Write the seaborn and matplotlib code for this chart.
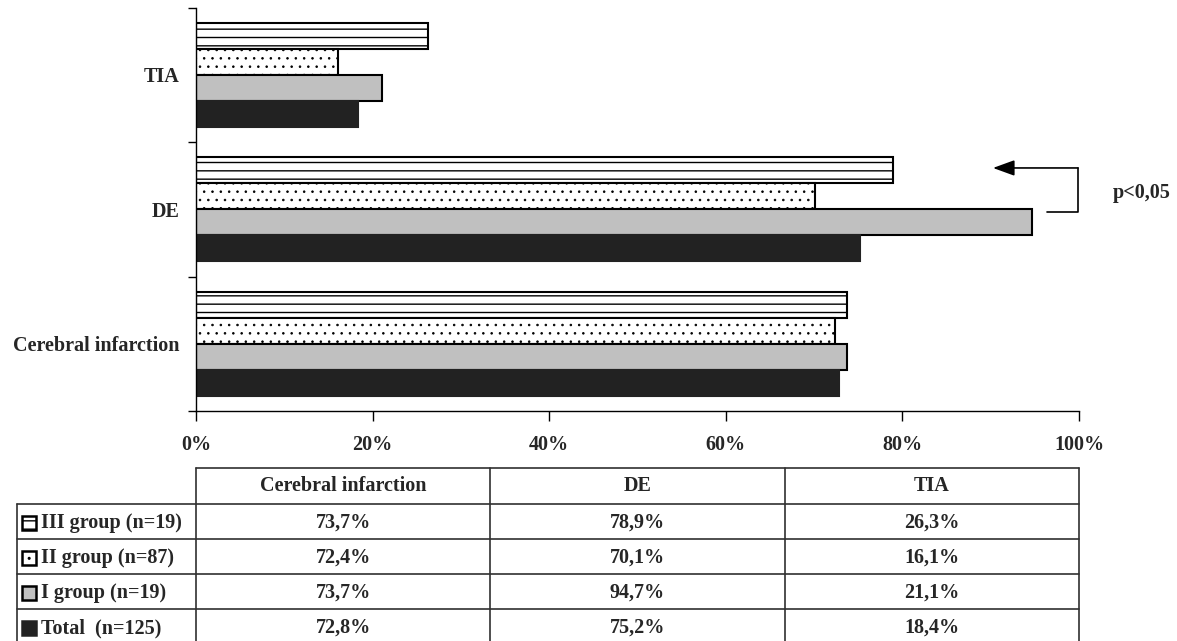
import numpy as np
import pandas as pd
import matplotlib
matplotlib.use("Agg")
import matplotlib.pyplot as plt
from matplotlib.patches import Rectangle
import seaborn as sns

# data (percent)
categories = ["Cerebral infarction", "DE", "TIA"]
groups = ["III group (n=19)", "II group (n=87)", "I group (n=19)", "Total  (n=125)"]
group_iii = [73.7, 78.9, 26.3]
group_ii = [72.4, 70.1, 16.1]
group_i = [73.7, 94.7, 21.1]
total = [72.8, 75.2, 18.4]
x_ticks = [0, 20, 40, 60, 80, 100]

sns.set_theme(style="white")
plt.rcParams["font.family"] = ["Liberation Serif", "DejaVu Serif"]
plt.rcParams["font.weight"] = "bold"
plt.rcParams["hatch.linewidth"] = 1.0

values = [group_iii, group_ii, group_i, total]
df = pd.DataFrame({
    "group": np.repeat(groups, len(categories)),
    "category": categories * len(groups),
    "pct": np.concatenate(values) / 100.0,
})

styles = {
    groups[0]: dict(facecolor="white", edgecolor="black", hatch="--"),
    groups[1]: dict(facecolor="white", edgecolor="black", hatch=".."),
    groups[2]: dict(facecolor="#c0c0c0", edgecolor="black", hatch=None),
    groups[3]: dict(facecolor="#222222", edgecolor="#222222", hatch=None),
}

W, H = 1177, 641
fig = plt.figure(figsize=(W / 100, H / 100), dpi=100)
ax = fig.add_axes([196 / W, 1 - 411 / H, (1079 - 196) / W, (411 - 7.5) / H])

sns.barplot(data=df, x="pct", y="category", hue="group", orient="h",
            order=categories[::-1], hue_order=groups, width=0.77,
            errorbar=None, legend=False, palette=["white", "white", "#c0c0c0", "#222222"],
            ax=ax)

for cont, g in zip(ax.containers, groups):
    for bar in cont:
        bar.set_facecolor(styles[g]["facecolor"])
        bar.set_edgecolor(styles[g]["edgecolor"])
        bar.set_hatch(styles[g]["hatch"])
        bar.set_linewidth(1.5)
        if g == groups[1] and hasattr(bar, "set_hatch_linewidth"):
            bar.set_hatch_linewidth(0.6)

ax.set_xlim(0, 1)
ax.set_ylim(2.5, -0.5)
ax.set_xticks(np.array(x_ticks) / 100)
ax.set_xticklabels([f"{t}%" for t in x_ticks], fontsize=14.5, fontweight="bold")
ax.set_yticks(range(3))
ax.set_yticklabels(categories[::-1], fontsize=14.5, fontweight="bold")
ax.set_yticks([-0.5, 0.5, 1.5, 2.5], minor=True)
ax.tick_params(axis="y", which="major", length=0, pad=12, left=True)
ax.tick_params(axis="y", which="minor", length=6, width=1, color="black", left=True, direction="out")
ax.tick_params(axis="x", length=7, width=1, color="black", pad=10, bottom=True, direction="out")
ax.set_xlabel("")
ax.set_ylabel("")
sns.despine(ax=ax)
for s in ["left", "bottom"]:
    ax.spines[s].set_color("black")
    ax.spines[s].set_linewidth(1)

# p-value bracket between I group and III group on DE
ax.annotate("", xy=(0.9026, 0.693), xytext=(0.9989, 0.693),
            arrowprops=dict(arrowstyle="-|>,head_length=1.1,head_width=0.4",
                            color="black", lw=1.2, shrinkA=0, shrinkB=0),
            annotation_clip=False)
ax.plot([0.9638, 0.9989, 0.9989], [1.020, 1.020, 0.693], color="black", lw=1.2, clip_on=False)
ax.text(1.0385, 0.879, "p<0,05", ha="left", va="center", fontsize=14.5, fontweight="bold")

# data table under the chart
tax = fig.add_axes([0, 0, 1, 1])
tax.set_xlim(0, W)
tax.set_ylim(H, 0)
tax.axis("off")
tax.patch.set_visible(False)

col_x = np.linspace(196, 1079, len(categories) + 1)
row_y = [468, 504, 539, 574, 609, 644]
lc = "#303030"
tax.plot([col_x[0], col_x[-1]], [row_y[0]] * 2, color=lc, lw=1.2)
for y in row_y[1:]:
    tax.plot([17, col_x[-1]], [y, y], color=lc, lw=1.2, clip_on=False)
tax.plot([17, 17], [row_y[1], row_y[-1]], color=lc, lw=1.2, clip_on=False)
for x in col_x:
    tax.plot([x, x], [row_y[0], row_y[-1]], color=lc, lw=1.2, clip_on=False)

for j, cat in enumerate(categories):
    tax.text((col_x[j] + col_x[j + 1]) / 2, (row_y[0] + row_y[1]) / 2, cat,
             ha="center", va="center", fontsize=14.5, fontweight="bold")

for i, g in enumerate(groups):
    yc = (row_y[i + 1] + row_y[i + 2]) / 2 + 1.5
    st = styles[g]
    sq = Rectangle((22, yc - 7), 14, 14, facecolor=st["facecolor"],
                   edgecolor=st["edgecolor"] if i < 3 else st["facecolor"],
                   hatch=st["hatch"], lw=1.8)
    tax.add_patch(sq)
    tax.text(41, yc, g, ha="left", va="center", fontsize=14.5, fontweight="bold")
    for j in range(len(categories)):
        txt = f"{values[i][j]:.1f}%".replace(".", ",")
        tax.text((col_x[j] + col_x[j + 1]) / 2, yc, txt,
                 ha="center", va="center", fontsize=14.5, fontweight="bold")

fig.savefig("out.png", dpi=100)
